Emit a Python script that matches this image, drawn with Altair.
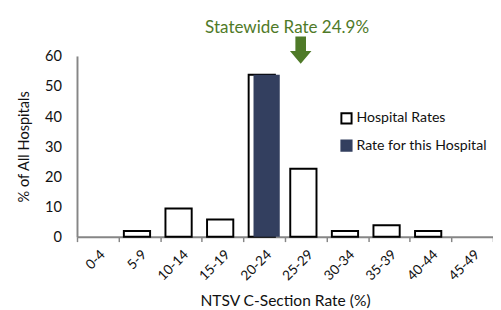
import altair as alt
import pandas as pd

categories = ["0-4", "5-9", "10-14", "15-19", "20-24", "25-29", "30-34", "35-39", "40-44", "45-49"]
hospital_pct = [0, 1.9, 9.4, 5.7, 53.8, 22.6, 1.9, 3.8, 1.9, 0]
this_hospital_cat = ["20-24"]
this_hospital_pct = [53.8]
statewide_rate = [24.9]
statewide_label = ["Statewide Rate 24.9%"]
series_names = ["Hospital Rates", "Rate for this Hospital"]
y_ticks = [0, 10, 20, 30, 40, 50, 60]

FONT = "Lato"
GREEN = "#4F7A28"
NAVY = "#333F5F"
GRAY = "#868686"

df_h = pd.DataFrame({"cat": categories, "pct": hospital_pct, "series": series_names[0]})
df_t = pd.DataFrame({"cat": this_hospital_cat, "pct": this_hospital_pct, "series": series_names[1]})
df_s = pd.DataFrame({"rate": statewide_rate, "label": statewide_label})

xaxis = alt.Axis(title="NTSV C-Section Rate (%)", labelAngle=-45, tickBand="extent",
                 domainColor=GRAY, domainWidth=2, tickColor=GRAY, tickWidth=1.5, tickSize=5,
                 labelFont=FONT, labelFontSize=14, labelColor="#111", labelPadding=6,
                 titleFont=FONT, titleFontSize=16, titleFontWeight="normal", titleColor="#111",
                 titlePadding=10, grid=False)
xscale = alt.Scale(domain=categories, paddingInner=0, paddingOuter=0)
yaxis = alt.Axis(title="% of All Hospitals", values=y_ticks, tickCount=7, ticks=False,
                 labelOverlap=False, domainColor=GRAY, domainWidth=2, labelFont=FONT,
                 labelFontSize=15, labelColor="#111", labelPadding=16, titleFont=FONT,
                 titleFontSize=15, titleFontWeight="normal", titleColor="#111",
                 titlePadding=14, grid=False)
yscale = alt.Scale(domain=[0, 60])

fill_scale = alt.Scale(domain=series_names, range=["white", NAVY])
stroke_scale = alt.Scale(domain=series_names, range=["black", NAVY])
leg = alt.Legend(title=None, orient="none", legendX=270, legendY=57, symbolType="square",
                 symbolSize=110, symbolStrokeWidth=2, labelFont=FONT, labelFontSize=14.5,
                 labelColor="#111", rowPadding=9, labelOffset=3)

hosp = alt.Chart(df_h).transform_filter("datum.pct > 0").mark_bar(
    width=27, xOffset=-2.5, strokeWidth=2).encode(
    x=alt.X("cat:N", sort=categories, scale=xscale, axis=xaxis),
    y=alt.Y("pct:Q", scale=yscale, axis=yaxis),
    fill=alt.Fill("series:N", scale=fill_scale, legend=leg),
    stroke=alt.Stroke("series:N", scale=stroke_scale, legend=leg),
)
this = alt.Chart(df_t).mark_bar(width=27, xOffset=2.5, strokeWidth=0).encode(
    x=alt.X("cat:N", sort=categories, scale=xscale, axis=xaxis),
    y=alt.Y("pct:Q", scale=yscale, axis=yaxis),
    fill=alt.Fill("series:N", scale=fill_scale, legend=leg),
    stroke=alt.Stroke("series:N", scale=stroke_scale, legend=leg),
)

xq = alt.X("rate:Q", scale=alt.Scale(domain=[0, 50]), axis=None)
label = alt.Chart(df_s).mark_text(font=FONT, fontSize=17.5, color=GREEN, baseline="alphabetic",
                                  align="center", dx=3).encode(
    x=xq, y=alt.value(-24), text="label:N")
arrow_path = "M-0.39,-1L0.39,-1L0.39,0.07L0.79,0.07L0,1L-0.79,0.07L-0.39,0.07Z"
arrow = alt.Chart(df_s).mark_point(shape=arrow_path, size=784, filled=True, color=GREEN,
                                   opacity=1, strokeWidth=0, xOffset=17).encode(
    x=xq, y=alt.value(-6))

bars = alt.layer(hosp, this)
annot = alt.layer(label, arrow)
chart = alt.layer(bars, annot).resolve_scale(x="independent").properties(
    width=428, height=186,
    autosize=alt.AutoSizeParams(type="none"),
    padding={"left": 71, "top": 45, "right": 0, "bottom": 71},
).configure_view(stroke=None)

chart.save("out.html", embed_options={"renderer": "svg", "actions": False})
